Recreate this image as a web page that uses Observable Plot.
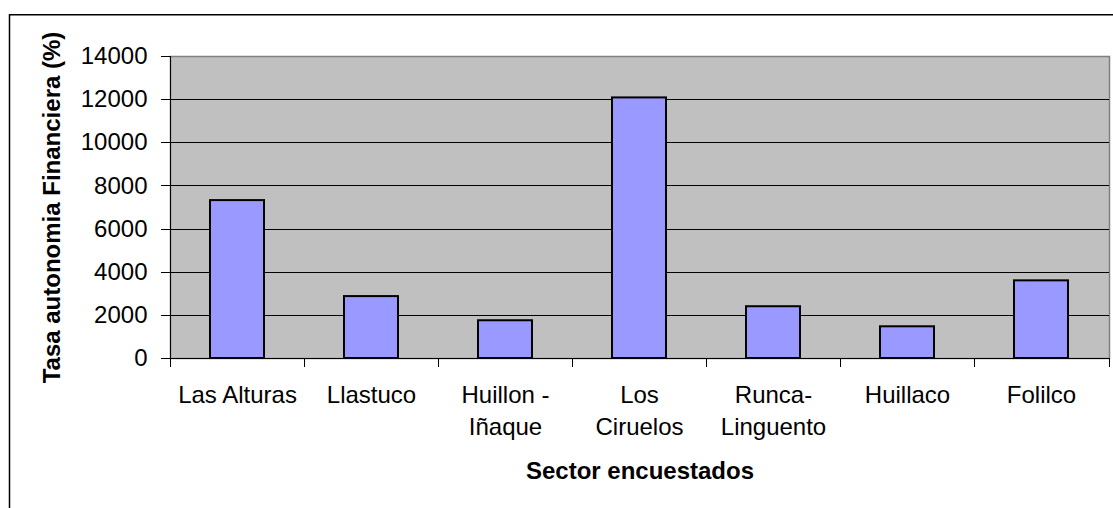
<!DOCTYPE html>
<html><head><meta charset="utf-8">
<script src="https://cdn.jsdelivr.net/npm/d3@7"></script>
<script src="https://cdn.jsdelivr.net/npm/@observablehq/plot@0.6"></script>
<style>body{margin:0;background:#fff}</style>
</head><body><div id="chart"></div>
<script>
const categories = ["Las Alturas", "Llastuco", "Huillon -\nIñaque", "Los\nCiruelos", "Runca-\nLinguento", "Huillaco", "Folilco"];
const values = [7320, 2870, 1750, 12080, 2400, 1470, 3600];
const yTicks = [0, 2000, 4000, 6000, 8000, 10000, 12000, 14000];
const gridValues = [2000, 4000, 6000, 8000, 10000, 12000];
const xTitle = "Sector encuestados";
const yTitle = "Tasa autonomia Financiera (%)";

const data = categories.map((c, i) => ({sector: c, value: values[i]}));
const font = "'Liberation Sans', Arial, sans-serif";

const boundaryTicks = (index, scales, vals, dims) => {
  const x = scales.x;
  const bw = x.bandwidth ? x.bandwidth() : 0;
  const centers = categories.map(c => x(c) + bw / 2);
  const bounds = [dims.marginLeft, ...centers.slice(1).map((c, i) => (c + centers[i]) / 2), dims.width - dims.marginRight];
  const bottom = dims.height - dims.marginBottom;
  const g = d3.create("svg:g").attr("stroke", "black").attr("stroke-width", 1).attr("shape-rendering", "crispEdges");
  for (const b of bounds) {
    const xb = Math.round(b) + 0.5;
    g.append("line").attr("x1", xb).attr("x2", xb).attr("y1", bottom).attr("y2", bottom + 9);
  }
  g.append("line").attr("x1", dims.marginLeft + 0.5).attr("x2", dims.marginLeft + 0.5)
    .attr("y1", dims.marginTop).attr("y2", bottom + 0.5);
  return g.node();
};

const chart = Plot.plot({
  width: 1113, height: 508,
  marginLeft: 170, marginRight: 4, marginTop: 56, marginBottom: 150,
  style: {fontFamily: font, fontSize: "24px", background: "white", color: "black", overflow: "visible"},
  x: {domain: categories, paddingInner: 0.594, paddingOuter: 0.297, label: null},
  y: {domain: [0, 14000], ticks: yTicks, label: null},
  marks: [
    Plot.frame({fill: "#C0C0C0", stroke: "#808080", strokeWidth: 1.5}),
    Plot.ruleY(gridValues, {stroke: "black", strokeWidth: 1, shapeRendering: "crispEdges"}),
    Plot.ruleY([0], {stroke: "black", strokeWidth: 1, shapeRendering: "crispEdges"}),
    Plot.barY(data, {x: "sector", y: "value", fill: "#9999FF", stroke: "black", strokeWidth: 2}),
    Plot.axisY({ticks: yTicks, tickFormat: d => String(d), tickSize: 9, tickPadding: 14, fontSize: 24, label: null, stroke: "black", shapeRendering: "crispEdges"}),
    Plot.axisX({tickSize: 0, tickPadding: 22, fontSize: 24, lineHeight: 1.33, label: null}),
    boundaryTicks,
    Plot.text([xTitle], {text: d => d, frameAnchor: "bottom", dy: 120, fontWeight: "bold", fontSize: 24}),
    Plot.text([yTitle], {text: d => d, frameAnchor: "left", textAnchor: "middle", rotate: -90, dx: -118, fontWeight: "bold", fontSize: 24})
  ]
});

const svg = d3.select(chart);
svg.append("line").attr("x1", 9.5).attr("x2", 1113).attr("y1", 14.75).attr("y2", 14.75).attr("stroke", "black").attr("stroke-width", 1.5);
svg.append("line").attr("x1", 9.5).attr("x2", 9.5).attr("y1", 14).attr("y2", 508).attr("stroke", "black").attr("stroke-width", 1.5);

document.getElementById("chart").append(chart);
</script>
</body></html>
